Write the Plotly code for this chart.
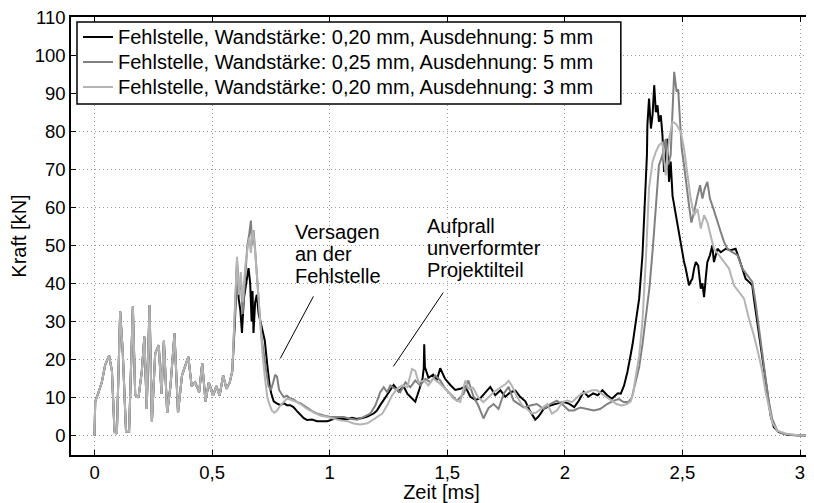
import plotly.graph_objects as go

# shared start of all three curves (they lie on top of each other up to ~0.59 ms)
t_start = [0.000, 0.003, 0.015, 0.031, 0.045, 0.055, 0.062, 0.074, 0.085, 0.095, 0.109, 0.120,
           0.130, 0.134, 0.147, 0.163, 0.173, 0.187, 0.201, 0.212, 0.222, 0.234, 0.244, 0.258,
           0.273, 0.285, 0.295, 0.309, 0.323, 0.340, 0.355, 0.372, 0.386, 0.399, 0.413, 0.428,
           0.445, 0.458, 0.472, 0.486, 0.504, 0.518, 0.532, 0.547, 0.561, 0.575, 0.586]
kraft_start = [0, 9, 11, 14, 18.5, 20, 21, 17, 1, 0.5, 32.6, 22,
               6, 1, 1, 33.9, 10.7, 10, 16.8, 26, 7, 34.3, 3.6, 21.6,
               23.8, 11, 24.9, 6, 13, 26.8, 6, 15.8, 18.4, 20.7, 13, 14,
               11.4, 19, 9, 14, 10.5, 13, 10.5, 15.8, 12.3, 14, 17]

# Wandstaerke 0,20 mm, Ausdehnung 5 mm
t_1 = [0.597, 0.606, 0.613, 0.620, 0.627, 0.635, 0.645, 0.655, 0.662, 0.668, 0.672, 0.676,
       0.683, 0.690, 0.698, 0.705, 0.714, 0.724, 0.734, 0.745, 0.752, 0.762, 0.775, 0.790,
       0.805, 0.818, 0.832, 0.846, 0.860, 0.875, 0.890, 0.904, 0.925, 0.946, 0.970, 0.990,
       1.010, 1.030, 1.050, 1.075, 1.095, 1.117, 1.140, 1.160, 1.187, 1.200, 1.215, 1.230,
       1.244, 1.258, 1.272, 1.293, 1.315, 1.330, 1.343, 1.364, 1.382, 1.395, 1.400, 1.402,
       1.405, 1.420, 1.440, 1.455, 1.470, 1.490, 1.513, 1.534, 1.555, 1.577, 1.598, 1.620,
       1.640, 1.662, 1.683, 1.704, 1.726, 1.747, 1.768, 1.790, 1.810, 1.832, 1.853, 1.874,
       1.888, 1.910, 1.938, 1.966, 1.995, 2.017, 2.040, 2.060, 2.080, 2.100, 2.120, 2.140,
       2.160, 2.180, 2.200, 2.225, 2.238, 2.252, 2.266, 2.278, 2.288, 2.302, 2.316, 2.330,
       2.340, 2.349, 2.351, 2.358, 2.366, 2.373, 2.380, 2.387, 2.394, 2.400, 2.408, 2.415,
       2.422, 2.429, 2.436, 2.443, 2.450, 2.458, 2.467, 2.479, 2.490, 2.500, 2.507, 2.514,
       2.521, 2.528, 2.535, 2.542, 2.550, 2.557, 2.567, 2.578, 2.585, 2.592, 2.600, 2.606,
       2.617, 2.627, 2.634, 2.649, 2.663, 2.684, 2.705, 2.726, 2.741, 2.755, 2.769, 2.783,
       2.797, 2.804, 2.818, 2.833, 2.847, 2.861, 2.875, 2.889, 2.910, 2.946, 3.000, 3.060]
kraft_1 = [30, 45, 36, 33, 27, 36, 40, 44, 40, 30, 38, 27,
           35, 37, 32, 30, 28, 25, 19, 13, 11, 9, 8.5, 8,
           8.5, 8, 8, 7.5, 6.5, 5.4, 4.6, 4.1, 4.2, 3.8, 3.9, 3.8,
           4.2, 4.7, 4.4, 4.3, 4.7, 4.4, 4.6, 5, 5.8, 6.5, 8, 9.5,
           10.7, 12, 13.3, 11.6, 12.9, 11, 10.2, 8.9, 12.3, 15, 17.7, 24,
           18, 15.2, 16, 14.5, 17.7, 15, 13.3, 12, 12.3, 12.9, 10.2, 9.4,
           9.8, 11.4, 12.8, 10.6, 11.9, 10.2, 11.4, 11.8, 10.2, 9, 6.3, 4.2,
           5, 7, 7.9, 8.4, 8.8, 8.4, 7.5, 9.2, 11.5, 10.2, 11.1, 10.6,
           11.9, 10.6, 9.7, 11.1, 11, 13.2, 16.7, 20.6, 24, 30, 36, 47.4,
           60.5, 73.7, 81.6, 88.6, 80.7, 84.2, 92.1, 85, 86.8, 82.5, 84.2, 79,
           69.3, 73.7, 78, 66.7, 72, 63, 59.6, 56, 51.8, 47.4, 45.6, 43.9,
           41.2, 39.5, 40.5, 41.2, 44, 45.6, 44.7, 38.6, 40, 36.4, 42, 45.6,
           47.4, 50, 45.6, 49.1, 48.2, 49.1, 48.7, 49.1, 46.5, 43.9, 41.2, 40.4,
           39.5, 36, 29.8, 22.8, 16.7, 10.5, 5.3, 2.2, 0.9, 0.2, 0, 0]

# Wandstaerke 0,25 mm, Ausdehnung 5 mm
t_2 = [0.597, 0.606, 0.613, 0.622, 0.630, 0.640, 0.650, 0.658, 0.665, 0.670, 0.676, 0.684,
       0.692, 0.700, 0.710, 0.720, 0.730, 0.740, 0.750, 0.760, 0.768, 0.776, 0.785, 0.795,
       0.805, 0.818, 0.833, 0.847, 0.861, 0.875, 0.890, 0.904, 0.918, 0.932, 0.946, 0.960,
       0.975, 1.003, 1.030, 1.060, 1.088, 1.117, 1.145, 1.173, 1.194, 1.215, 1.230, 1.244,
       1.258, 1.280, 1.300, 1.322, 1.343, 1.364, 1.385, 1.407, 1.428, 1.449, 1.470, 1.492,
       1.513, 1.541, 1.570, 1.590, 1.610, 1.632, 1.654, 1.675, 1.697, 1.718, 1.740, 1.761,
       1.782, 1.804, 1.825, 1.853, 1.881, 1.910, 1.938, 1.966, 1.995, 2.017, 2.038, 2.066,
       2.094, 2.123, 2.150, 2.180, 2.208, 2.230, 2.250, 2.270, 2.285, 2.300, 2.316, 2.330,
       2.345, 2.360, 2.375, 2.390, 2.400, 2.415, 2.429, 2.436, 2.443, 2.450, 2.458, 2.465,
       2.475, 2.482, 2.490, 2.497, 2.507, 2.518, 2.528, 2.538, 2.550, 2.564, 2.575, 2.585,
       2.595, 2.606, 2.617, 2.632, 2.649, 2.663, 2.677, 2.691, 2.712, 2.734, 2.755, 2.776,
       2.797, 2.811, 2.825, 2.840, 2.854, 2.868, 2.882, 2.903, 2.932, 3.000, 3.060]
kraft_2 = [32, 46, 38, 41, 32, 42, 50, 53, 56.5, 50, 54, 48,
           42, 34, 26, 21, 17, 13, 12, 14, 16, 15.5, 12, 11,
           10.1, 10.5, 9.7, 9.5, 8.8, 8.5, 7.9, 7.2, 6.6, 6.2, 5.8, 5.5,
           5.3, 4.9, 4.9, 4.9, 4.4, 4.2, 4.9, 5.8, 7.9, 11.4, 12.7, 11.4,
           13.2, 12.3, 11.4, 14, 12.7, 14.5, 13.2, 14.9, 14, 15.8, 14.5, 12.3,
           11, 9.2, 11, 14.5, 10.5, 7.9, 4.5, 7.2, 8.3, 7, 11, 12.8,
           9.2, 8.3, 7.4, 7.9, 8.3, 7, 8.3, 9.2, 7.9, 6.6, 6.6, 7.4,
           7, 6.6, 7, 8.3, 9.2, 9.6, 8.8, 8.8, 10, 14, 18, 24,
           32, 39, 50, 62, 71, 73.7, 78, 71, 72, 73.7, 86.8, 95.6,
           90.4, 91, 82.5, 75.4, 71, 65, 60.5, 56, 58.8, 63, 65.8, 62.3,
           65, 66.7, 62.3, 59.6, 56, 53.5, 50.9, 49.1, 48.2, 47.4, 43.9, 42.1,
           40.4, 35, 28, 21, 14.9, 8.8, 4.4, 1.3, 0.4, 0, 0]

# Wandstaerke 0,20 mm, Ausdehnung 3 mm
t_3 = [0.597, 0.606, 0.613, 0.622, 0.630, 0.640, 0.650, 0.658, 0.665, 0.672, 0.680, 0.688,
       0.696, 0.705, 0.715, 0.725, 0.735, 0.745, 0.755, 0.765, 0.775, 0.790, 0.805, 0.818,
       0.832, 0.846, 0.860, 0.875, 0.890, 0.904, 0.932, 0.960, 0.990, 1.017, 1.045, 1.074,
       1.102, 1.130, 1.160, 1.180, 1.200, 1.224, 1.244, 1.265, 1.287, 1.308, 1.330, 1.350,
       1.364, 1.378, 1.400, 1.420, 1.440, 1.462, 1.485, 1.506, 1.527, 1.555, 1.577, 1.590,
       1.610, 1.632, 1.654, 1.675, 1.697, 1.718, 1.747, 1.761, 1.775, 1.797, 1.818, 1.840,
       1.860, 1.880, 1.900, 1.925, 1.945, 1.966, 1.990, 2.010, 2.030, 2.050, 2.070, 2.094,
       2.116, 2.137, 2.160, 2.180, 2.200, 2.220, 2.240, 2.264, 2.280, 2.290, 2.300, 2.316,
       2.330, 2.344, 2.358, 2.373, 2.387, 2.400, 2.415, 2.429, 2.443, 2.458, 2.472, 2.493,
       2.507, 2.521, 2.535, 2.550, 2.564, 2.578, 2.592, 2.606, 2.620, 2.634, 2.656, 2.677,
       2.698, 2.719, 2.741, 2.762, 2.783, 2.804, 2.825, 2.840, 2.854, 2.868, 2.882, 2.903,
       2.946, 3.000, 3.060]
kraft_3 = [33, 47, 37, 43, 35, 44, 49, 52, 48, 54, 51, 44,
           36, 28, 21, 15, 10, 8, 6.5, 6, 6.5, 7.9, 9, 9.7,
           9.5, 9.2, 8.8, 8.3, 7.6, 7, 6.1, 5.3, 4.9, 4.4, 4, 3.8,
           3.2, 2.9, 3.2, 4, 4.9, 5.8, 7.9, 10.5, 12.3, 13.2, 12.7, 17.5,
           17, 14, 14.5, 13.2, 15, 14, 12.7, 11.4, 9.7, 8.8, 14.5, 12.3,
           12.6, 10, 8.8, 10, 11.4, 12.3, 13.5, 14.4, 13.1, 10.2, 8, 7,
           5.8, 6.1, 7, 8.3, 5.8, 6.6, 8.8, 9.2, 8.8, 10, 11, 11.4,
           11.9, 11.9, 11, 10, 9.2, 8.3, 7.9, 8.3, 9, 11, 15, 21,
           30, 45.6, 65, 72, 74.6, 76.3, 77.2, 68.4, 78, 82.5, 82, 79.8,
           75.4, 69.3, 62.3, 57.9, 59.6, 54.4, 57.9, 56.1, 52.6, 49.1, 47.4, 45.6,
           43.9, 39.5, 37.7, 36, 30.7, 26.3, 21, 16.7, 11.4, 7, 3.5, 1.3,
           0.4, 0, 0]

namen = ["Fehlstelle, Wandstärke: 0,20 mm, Ausdehnung: 5 mm",
         "Fehlstelle, Wandstärke: 0,25 mm, Ausdehnung: 5 mm",
         "Fehlstelle, Wandstärke: 0,20 mm, Ausdehnung: 3 mm"]
farben = ["#000000", "#808080", "#b4b4b4"]

text_versagen = ["Versagen", "an der", "Fehlstelle"]
text_aufprall = ["Aufprall", "unverformter", "Projektilteil"]

FONT = "Liberation Sans"

fig = go.Figure()
for t, f, name, col in zip([t_1, t_2, t_3], [kraft_1, kraft_2, kraft_3], namen, farben):
    fig.add_trace(go.Scatter(
        x=t_start + t,
        y=kraft_start + f,
        mode="lines",
        name=name,
        line=dict(color=col, width=2),
        showlegend=False,
    ))

# MATLAB-style legend box (tighter rows than plotly's own legend)
fig.add_shape(type="rect", xref="paper", yref="paper", x0=0.0081, x1=0.742, y0=0.8014, y1=0.9886,
              line=dict(color="black", width=1.5), fillcolor="white", layer="above")
for i, (name, col) in enumerate(zip(namen, farben)):
    yy = 0.9543 - 0.0571 * i
    fig.add_shape(type="line", xref="paper", yref="paper", x0=0.0162, x1=0.0567, y0=yy, y1=yy,
                  line=dict(color=col, width=2), layer="above")
    fig.add_annotation(xref="paper", yref="paper", x=0.0605, y=yy, text=name, showarrow=False,
                       xanchor="left", yanchor="middle", font=dict(size=20, color="black"))

# annotation texts, one line each (MATLAB-like tight line spacing)
for i, line in enumerate(text_versagen):
    fig.add_annotation(x=0.845, y=53.5 - 5.8 * i, text=line, showarrow=False,
                       xanchor="left", yanchor="middle", font=dict(size=20, color="black"))
for i, line in enumerate(text_aufprall):
    fig.add_annotation(x=1.405, y=55.1 - 5.8 * i, text=line, showarrow=False,
                       xanchor="left", yanchor="middle", font=dict(size=20, color="black"))

# pointer lines
fig.add_shape(type="line", x0=0.931, y0=36.6, x1=0.790, y1=20.3,
              xref="x", yref="y", line=dict(color="black", width=1))
fig.add_shape(type="line", x0=1.483, y0=37.6, x1=1.271, y1=18.2,
              xref="x", yref="y", line=dict(color="black", width=1))

axis_style = dict(
    showline=True, linecolor="black", linewidth=1.5, mirror="ticks",
    ticks="inside", ticklen=5, tickcolor="black",
    showgrid=True, gridcolor="#9a9a9a", griddash="1px,3px", gridwidth=1,
    zeroline=False, tickfont=dict(size=18.5, color="black"), automargin=False,
    ticklabeloverflow="allow",
)

fig.update_xaxes(range=[-0.1, 3.051], tickvals=[0, 0.5, 1, 1.5, 2, 2.5, 3],
                 title=dict(text="Zeit [ms]", font=dict(size=20, color="black"), standoff=4),
                 **axis_style)
fig.update_yaxes(range=[-5.1, 110.02], tickvals=list(range(0, 111, 10)),
                 title=dict(text="Kraft [kN]", font=dict(size=20, color="black"), standoff=13),
                 **axis_style)

# the page adds an 8 px body margin, so the figure is 8 px smaller than the window
fig.update_layout(
    width=806, height=495,
    margin=dict(l=63, r=2, t=9, b=48),
    paper_bgcolor="white", plot_bgcolor="white",
    separators=",.",
    font=dict(family=FONT, color="black"),
    showlegend=False,
)

fig.write_html("out.html")
